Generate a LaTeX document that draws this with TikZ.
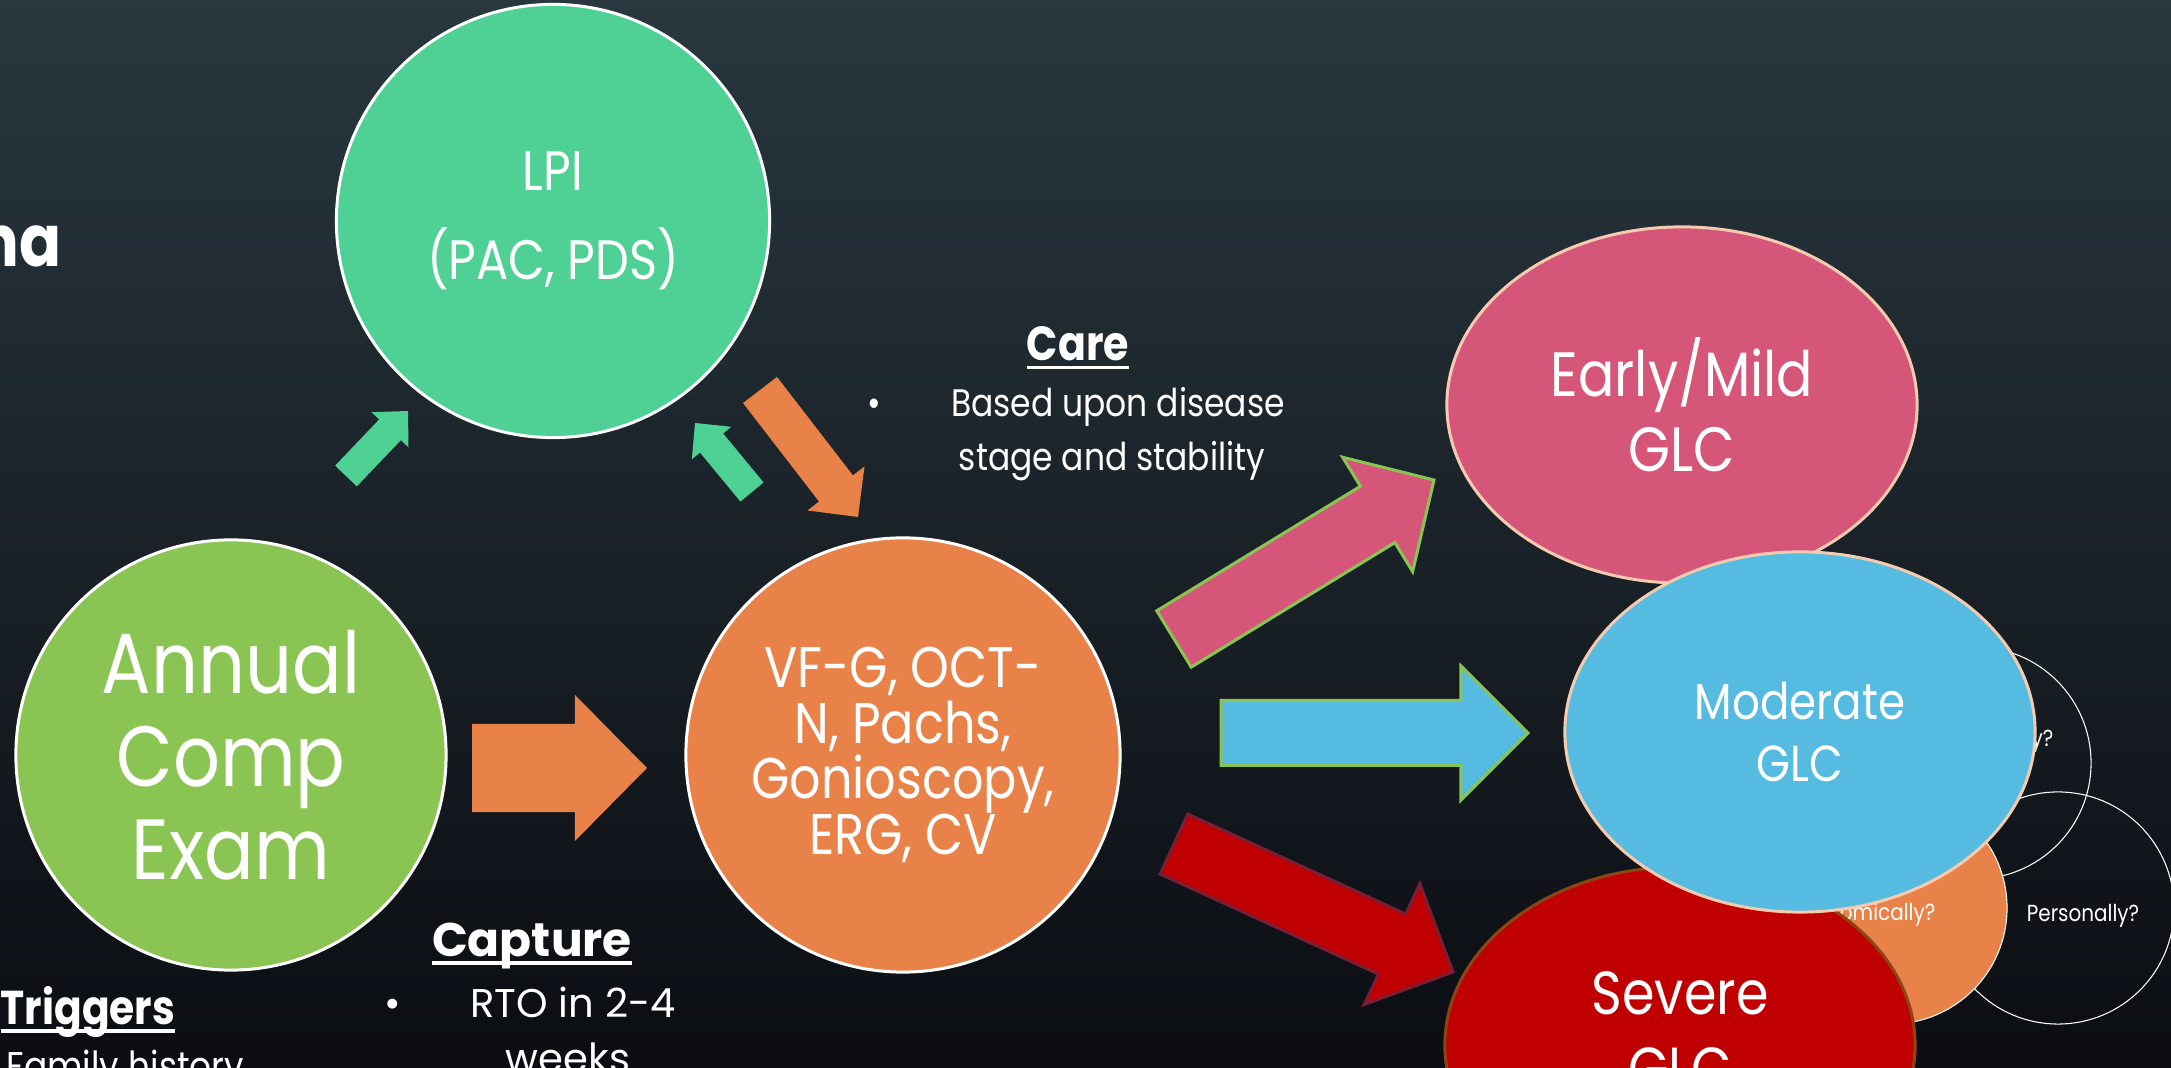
\documentclass[tikz,border=0pt]{standalone}
\usepackage{fontspec}
\setmainfont{Poppins}[FakeStretch=0.86]
\newfontfamily\plainfont{Poppins}
\usetikzlibrary{calc,shapes.geometric,positioning}
\definecolor{BgTop}{RGB}{41,55,63}
\definecolor{BgBot}{RGB}{11,13,18}
\definecolor{ExamGreen}{RGB}{138,196,82}
\definecolor{LpiGreen}{RGB}{79,208,148}
\definecolor{TestOrange}{RGB}{232,130,72}
\definecolor{MildPink}{RGB}{214,86,122}
\definecolor{ModBlue}{RGB}{85,187,224}
\definecolor{SevRed}{RGB}{192,0,0}
\definecolor{Peach}{RGB}{245,203,176}
\definecolor{SevBrown}{RGB}{140,70,20}
\definecolor{Maroon}{RGB}{120,30,55}
\lineskiplimit=-20pt

\newcommand{\blockarrow}[6]{%
  \coordinate (ba-t) at (#2);
  \coordinate (ba-h) at (#3);
  \coordinate (ba-b) at ($(ba-h)!#6!(ba-t)$);
  \path[#1] ($(ba-t)!#4!90:(ba-h)$) -- ($(ba-b)!#4!-90:(ba-t)$) -- ($(ba-b)!#5!-90:(ba-t)$) -- (ba-h)
    -- ($(ba-b)!#5!90:(ba-t)$) -- ($(ba-b)!#4!90:(ba-t)$) -- ($(ba-t)!#4!-90:(ba-h)$) -- cycle;}
\newcommand{\ulhead}[1]{\setbox0=\hbox{#1}\rlap{\rule[-0.16em]{\wd0}{0.065em}}\box0}

\begin{document}
\begin{tikzpicture}[x=0.01cm, y=-0.01cm,
 bub/.style={circle, draw=white, line width=0.85pt, inner sep=0pt, text=white, align=center},
 oval/.style={ellipse, line width=0.85pt, minimum width=4.70cm, minimum height=3.56cm, inner sep=0pt, text=white, align=center},
 venn/.style={circle, draw=white, line width=0.3pt, minimum size=2.32cm, inner sep=0pt},
 lbl/.style={text=white, inner sep=0pt},
 hdr/.style={lbl, font=\bfseries\fontsize{13.6}{15}\selectfont},
 body/.style={lbl, font=\fontsize{11.4}{15.6}\selectfont},
 carebody/.style={lbl, font=\fontsize{10.9}{14.5}\selectfont},
 vlbl/.style={lbl, font=\fontsize{6.6}{7.5}\selectfont},
 greenarr/.style={fill=LpiGreen},
 orangearr/.style={fill=TestOrange},
 pinkarr/.style={fill=MildPink, draw=ExamGreen, line width=0.85pt},
 bluearr/.style={fill=ModBlue, draw=ExamGreen, line width=0.85pt},
 redarr/.style={fill=SevRed, draw=Maroon, line width=0.85pt}
]
\useasboundingbox (0,0) rectangle (2171,1068);
\clip (0,0) rectangle (2171,1068);
\shade[top color=BgTop, bottom color=BgBot] (0,0) rectangle (2171,1068);

\node[lbl, anchor=base east, font=\bfseries\fontsize{20.5}{24}\selectfont] (ttl) at (62,267) {na};

\node[bub, fill=ExamGreen, minimum size=4.30cm, font=\fontsize{24.3}{26.5}\selectfont] (exam) at (231,755) {Annual\\Comp\\Exam};
\node[bub, fill=LpiGreen, minimum size=4.33cm, font=\fontsize{15.8}{18}\selectfont] (lpi) at (553,221) {LPI\\[7.3pt](PAC, PDS)};
\node[bub, fill=TestOrange, minimum size=4.34cm, font=\fontsize{16.3}{15.8}\selectfont] (tests) at (903,755) {VF-G, OCT-\\N, Pachs,\\Gonioscopy,\\ERG, CV};

\coordinate (e2l-t) at (346,476); \coordinate (e2l-h) at (408,411);
\coordinate (t2l-t) at (752,492); \coordinate (t2l-h) at (695,423);
\coordinate (l2t-t) at (760,390); \coordinate (l2t-h) at (858,517);
\coordinate (e2t-t) at (472,768); \coordinate (e2t-h) at (647,768);
\coordinate (t2m-t) at (1174,639); \coordinate (t2m-h) at (1434,480);
\coordinate (t2d-t) at (1221,733); \coordinate (t2d-h) at (1528,733);
\coordinate (t2s-t) at (1174,844); \coordinate (t2s-h) at (1453,972);
\blockarrow{greenarr}{e2l-t}{e2l-h}{0.15cm}{0.255cm}{0.26cm}
\blockarrow{greenarr}{t2l-t}{t2l-h}{0.15cm}{0.255cm}{0.26cm}
\blockarrow{orangearr}{l2t-t}{l2t-h}{0.214cm}{0.36cm}{0.36cm}
\blockarrow{orangearr}{e2t-t}{e2t-h}{0.44cm}{0.73cm}{0.72cm}
\blockarrow{pinkarr}{t2m-t}{t2m-h}{0.33cm}{0.67cm}{0.66cm}
\blockarrow{bluearr}{t2d-t}{t2d-h}{0.325cm}{0.67cm}{0.67cm}
\blockarrow{redarr}{t2s-t}{t2s-h}{0.33cm}{0.665cm}{0.67cm}

\node[venn] (vtop) at (1975,763) {};
\node[venn] (vright) at (2058,908) {};
\node[venn, fill=TestOrange] (vleft) at (1891,908) {};
\node[vlbl, anchor=base east] (vtoplbl) at (2054,747) {y?};
\node[vlbl, anchor=base] (vrightlbl) at (2083,922) {Personally?};
\node[vlbl, anchor=base east] (vleftlbl) at (1936,921) {nomically?};

\node[oval, fill=MildPink, draw=Peach, font=\fontsize{17.8}{21.3}\selectfont] (mild) at (1682,405) {Early/Mild\hspace{0.6em}\\GLC};
\node[oval, fill=SevRed, draw=SevBrown] (severe) at (1680,1045) {};
\node[lbl, align=center, font=\fontsize{17.3}{21.6}\selectfont] (severetxt) at ([yshift=0.14cm]severe.center) {Severe\\GLC};
\node[oval, fill=ModBlue, draw=Peach, minimum height=3.60cm, font=\fontsize{14.4}{17.4}\selectfont] (moderate) at (1800,732) {Moderate\\GLC};

\node[hdr, anchor=base] (carehd) at (1078,361) {\ulhead{Care}};
\node[carebody, anchor=base] (carebul) at (874,417) {\textbullet};
\node[carebody, anchor=base] (care1) at (1118,417) {Based upon disease};
\node[carebody, anchor=base] (care2) at (1112,471) {stage and stability};

\node[hdr, font=\plainfont\bfseries\fontsize{13.4}{15}\selectfont, anchor=base] (capthd) at (532,957) {\ulhead{Capture}};
\node[body, font=\plainfont\fontsize{11.4}{15.6}\selectfont, anchor=base] (captbul) at (393,1018) {\textbullet};
\node[body, font=\plainfont\fontsize{11.4}{15.6}\selectfont, anchor=base] (capt1) at (573,1018) {RTO in 2-4};
\node[body, font=\plainfont\fontsize{11.4}{15.6}\selectfont, anchor=base] (capt2) at (568,1073) {weeks};

\node[hdr, font=\bfseries\fontsize{13.5}{15}\selectfont, anchor=base west] (trighd) at (0,1025) {\ulhead{Triggers}};
\node[body, anchor=base west] (trig1) at (6,1081) {Family history};
\end{tikzpicture}
\end{document}
